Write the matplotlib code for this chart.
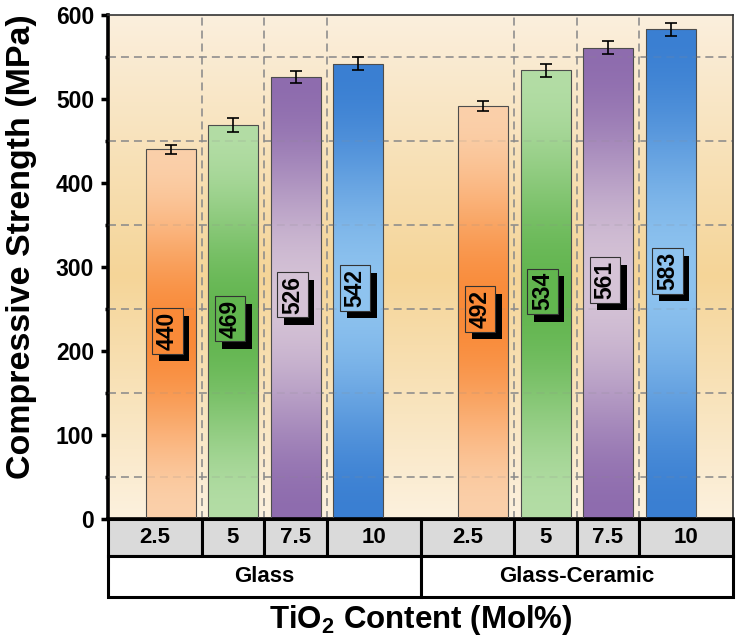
import numpy as np
import matplotlib.pyplot as plt
import matplotlib.patheffects as pe
from matplotlib.patches import Rectangle
from matplotlib.colors import to_rgb

plt.rcParams['font.family'] = ['Liberation Sans', 'DejaVu Sans']
plt.rcParams['mathtext.fontset'] = 'custom'
plt.rcParams['mathtext.rm'] = 'Liberation Sans'
plt.rcParams['mathtext.bf'] = 'Liberation Sans:bold'

# data
groups = ['Glass', 'Glass-Ceramic']
tio2 = ['2.5', '5', '7.5', '10']
glass = [440, 469, 526, 542]
glass_err = [5, 8, 7, 8]
ceramic = [492, 534, 561, 583]
ceramic_err = [6, 8, 8, 8]

# bar gradient colours: ends of the bar / middle of the bar
end_colors = ['#fbd0aa', '#b3dda5', '#8e6cae', '#3a7fd2']
mid_colors = ['#f98a38', '#62b54f', '#d5c3d6', '#8ec3ef']

values = glass + ceramic
errs = glass_err + ceramic_err
xpos = np.r_[np.arange(4), np.arange(4) + 5]
group_pos = [xpos[:4], xpos[4:]]

W, H = 740, 638
fig = plt.figure(figsize=(W / 100, H / 100), dpi=100)
ax = fig.add_axes([108 / W, 1 - 519 / H, 625 / W, 504 / H])
tab = fig.add_axes([108 / W, 1 - 597 / H, 625 / W, 78 / H])

# background: vertical cream -> yellow -> cream gradient
yy = np.linspace(0, 600, 300)
stops_y = [0, 290, 600]
stops_c = [to_rgb('#fcf1de'), to_rgb('#f5d598'), to_rgb('#fbefdd')]
bg = np.stack([np.interp(yy, stops_y, [c[k] for c in stops_c]) for k in range(3)], axis=-1)
ax.imshow(bg[:, None, :], origin='lower', extent=[-1, 9, 0, 600], aspect='auto', zorder=0)

# dashed grid at the minor positions
grid_x = [p + 0.5 for g in group_pos for p in g[:-1]]
for a, z in [(1.0, 1), (0.2, 4)]:
    for y in range(50, 600, 100):
        ax.axhline(y, color='#8c8c8c', ls=(0, (5.2, 3.3)), lw=1.1, alpha=a, zorder=z)
    for x in grid_x:
        ax.axvline(x, color='#8c8c8c', ls=(0, (5.2, 3.3)), lw=1.1, alpha=a, zorder=z)

bars = ax.bar(xpos, values, width=0.8, facecolor='none', edgecolor='#4d4d4d', lw=0.8, zorder=3)

t = np.linspace(0, 1, 200)
w = np.sin(np.pi * t) ** 2
for i, b in enumerate(bars):
    c0 = np.array(to_rgb(end_colors[i % 4]))
    c1 = np.array(to_rgb(mid_colors[i % 4]))
    grad = c0[None, :] * (1 - w[:, None]) + c1[None, :] * w[:, None]
    im = ax.imshow(grad[:, None, :], origin='lower', aspect='auto', zorder=2.5,
                   extent=[b.get_x(), b.get_x() + b.get_width(), 0, b.get_height()])
    im.set_clip_path(b)

ax.errorbar(xpos, values, yerr=errs, fmt='none', ecolor='black', elinewidth=1.2,
            capsize=4, capthick=1.2, zorder=5)

# value labels in a box with a black drop shadow
for i, (x, v) in enumerate(zip(xpos, values)):
    txt = ax.text(x - 0.05, v / 2 + 4, str(v), rotation=90, ha='center', va='center',
                  fontsize=16.5, fontweight='bold', zorder=7,
                  bbox=dict(boxstyle='square,pad=0.16', fc=mid_colors[i % 4],
                            ec='#333333', lw=0.8))
    txt.get_bbox_patch().set_path_effects([
        pe.SimplePatchShadow(offset=(5, -5.5), shadow_rgbFace='black', alpha=1),
        pe.Normal()])

ax.set_xlim(-1, 9)
ax.set_ylim(0, 600)
ax.set_xticks([])
ax.set_yticks(range(0, 601, 100))
ax.set_yticks(range(50, 600, 100), minor=True)
ax.tick_params(axis='y', which='major', direction='out', length=5, width=2.5,
               labelsize=16.5, pad=5)
ax.tick_params(axis='y', which='minor', direction='out', length=2.5, width=2.5)
for lbl in ax.get_yticklabels():
    lbl.set_fontweight('bold')
for s in ['left', 'bottom']:
    ax.spines[s].set_linewidth(2.6)
    ax.spines[s].set_color('black')
for s in ['top', 'right']:
    ax.spines[s].set_linewidth(1.2)
    ax.spines[s].set_color('#333333')

# category table under the axis
tab.set_xlim(-1, 9)
tab.set_ylim(0, 78)
tab.axis('off')
for g, pos in zip(groups, group_pos):
    edges = [pos[0] - 1] + [p + 0.5 for p in pos[:-1]] + [pos[-1] + 1]
    for lab, l, r in zip(tio2, edges[:-1], edges[1:]):
        tab.add_patch(Rectangle((l, 41), r - l, 37, fc='#dadada', ec='black', lw=2.2, clip_on=False))
        tab.text((l + r) / 2, 59.5, lab, ha='center', va='center', fontsize=16, fontweight='bold')
    tab.add_patch(Rectangle((edges[0], 0), edges[-1] - edges[0], 41, fc='white', ec='black',
                            lw=2.2, clip_on=False))
    tab.text((edges[0] + edges[-1]) / 2, 20.5, g, ha='center', va='center', fontsize=16,
             fontweight='bold')

fig.text(421 / W, 1 - 628 / H, r'TiO$_\mathbf{2}$ Content (Mol%)', ha='center', va='baseline',
         fontsize=22.5, fontweight='bold')
fig.text(22 / W, 1 - 247 / H, 'Compressive Strength (MPa)', rotation=90, ha='center',
         va='center', fontsize=24.5, fontweight='bold')

fig.savefig('out.png', dpi=100)
